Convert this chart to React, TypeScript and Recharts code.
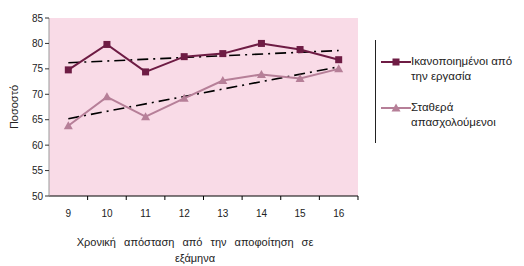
import React from "react";
import { LineChart, Line, XAxis, YAxis, CartesianGrid } from "recharts";

// Semesters since graduation
const semesters = ["9", "10", "11", "12", "13", "14", "15", "16"];
const satisfied = [74.8, 79.8, 74.4, 77.4, 78.0, 80.0, 78.8, 76.8];
const employed = [63.8, 69.5, 65.6, 69.2, 72.7, 73.9, 73.1, 75.0];
// linear trend lines, only end points
const satisfiedTrend = [76.2, null, null, null, null, null, null, 78.6];
const employedTrend = [65.2, null, null, null, null, null, null, 75.4];
const yTicks = [50, 55, 60, 65, 70, 75, 80, 85];

const SAT_COLOR = "#6e1c44";
const EMP_COLOR = "#b67f98";
const FONT = "'Liberation Sans', Arial, sans-serif";

const data = semesters.map((s, i) => ({
  name: s,
  satisfied: satisfied[i],
  employed: employed[i],
  satTrend: satisfiedTrend[i],
  empTrend: employedTrend[i],
}));

const SquareDot = (props: any) => {
  const { cx, cy } = props;
  if (cx == null || cy == null) return null;
  return <rect x={cx - 3.5} y={cy - 3.5} width={7} height={7} fill={SAT_COLOR} />;
};

const TriangleDot = (props: any) => {
  const { cx, cy } = props;
  if (cx == null || cy == null) return null;
  return (
    <polygon
      points={`${cx},${cy - 4.5} ${cx + 4.5},${cy + 3.5} ${cx - 4.5},${cy + 3.5}`}
      fill={EMP_COLOR}
    />
  );
};

// x ticks: label in the middle of the band, tick mark on the band's right edge
const XTick = (props: any) => {
  const { x, y, payload } = props;
  return (
    <g>
      <line x1={x + 19.3} x2={x + 19.3} y1={y - 8} y2={y - 4} stroke="#000" />
      <text x={x} y={y + 13} textAnchor="middle" fontSize={10} fill="#222" fontFamily={FONT}>
        {payload.value}
      </text>
    </g>
  );
};

function LegendBox() {
  return (
    <div
      style={{
        position: "absolute",
        left: 375,
        top: 40,
        height: 103,
        width: 149,
        borderLeft: "1px solid #222",
        fontFamily: FONT,
        fontSize: 11.5,
        color: "#222",
        lineHeight: "15px",
        whiteSpace: "nowrap",
      }}
    >
      <svg width={32} height={120} style={{ position: "absolute", left: 5, top: 0 }}>
        <line x1={0} x2={30} y1={22} y2={22} stroke={SAT_COLOR} strokeWidth={2} />
        <rect x={11.5} y={18.5} width={7} height={7} fill={SAT_COLOR} />
        <line x1={0} x2={30} y1={68} y2={68} stroke={EMP_COLOR} strokeWidth={2} />
        <polygon points="15,63.5 19.5,71.5 10.5,71.5" fill={EMP_COLOR} />
      </svg>
      <div style={{ position: "absolute", left: 35, top: 14 }}>
        Ικανοποιημένοι από
        <br />
        την εργασία
      </div>
      <div style={{ position: "absolute", left: 35, top: 60 }}>
        Σταθερά
        <br />
        απασχολούμενοι
      </div>
    </div>
  );
}

export default function App() {
  return (
    <div style={{ position: "absolute", left: 0, top: 0, width: 524, height: 266, background: "#fff", overflow: "hidden" }}>
      <LineChart
        width={524}
        height={266}
        data={data}
        margin={{ top: 18, right: 166, bottom: 40, left: 9 }}
      >
        <rect x={49} y={18} width={309} height={178} fill="#f9dbe7" />
        <CartesianGrid horizontal vertical={false} stroke="#ffffff" strokeWidth={1} />
        <XAxis
          dataKey="name"
          scale="band"
          tickLine={false}
          axisLine={{ stroke: "#000" }}
          tick={<XTick />}
          height={30}
          interval={0}
        />
        <YAxis
          domain={[50, 85]}
          ticks={yTicks}
          width={40}
          axisLine={{ stroke: "#999" }}
          tickLine={{ stroke: "#333" }}
          tickSize={4}
          tick={{ fontSize: 10, fill: "#222", fontFamily: FONT }}
          label={{
            value: "Ποσοστό",
            angle: -90,
            position: "insideLeft",
            offset: 5,
            style: { fontSize: 11, fill: "#222", fontFamily: FONT, textAnchor: "middle" },
          }}
        />
        <Line
          dataKey="satTrend"
          stroke="#000"
          strokeWidth={1.6}
          strokeDasharray="11 5 2 5"
          dot={false}
          connectNulls
          isAnimationActive={false}
        />
        <Line
          dataKey="empTrend"
          stroke="#000"
          strokeWidth={1.6}
          strokeDasharray="11 5 2 5"
          dot={false}
          connectNulls
          isAnimationActive={false}
        />
        <Line
          dataKey="satisfied"
          stroke={SAT_COLOR}
          strokeWidth={2}
          dot={<SquareDot />}
          activeDot={false}
          isAnimationActive={false}
        />
        <Line
          dataKey="employed"
          stroke={EMP_COLOR}
          strokeWidth={2}
          dot={<TriangleDot />}
          activeDot={false}
          isAnimationActive={false}
        />
      </LineChart>
      <div
        style={{
          position: "absolute",
          left: 40,
          width: 310,
          top: 234,
          textAlign: "center",
          fontFamily: FONT,
          fontSize: 11,
          wordSpacing: 5,
          color: "#222",
          lineHeight: "16px",
        }}
      >
        Χρονική απόσταση από την αποφοίτηση σε
        <br />
        εξάμηνα
      </div>
      <LegendBox />
    </div>
  );
}
